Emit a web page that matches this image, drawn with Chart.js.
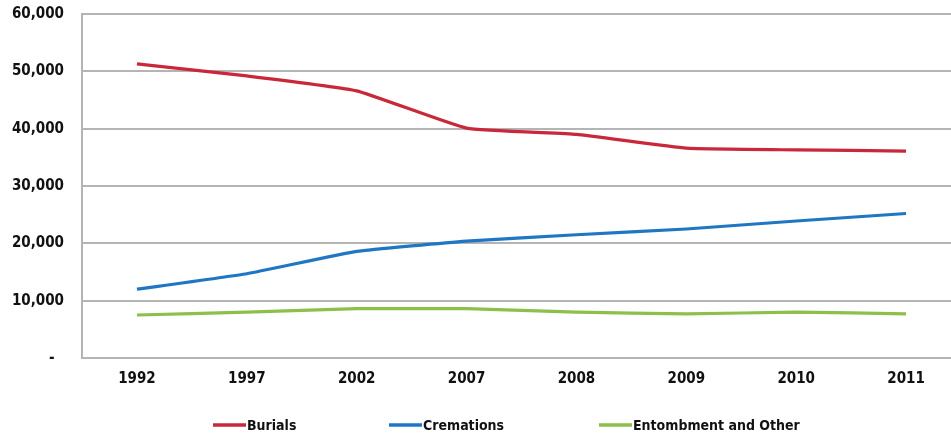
<!DOCTYPE html>
<html>
<head>
<meta charset="utf-8">
<title>Burials, Cremations and Entombment</title>
<script src="https://cdn.jsdelivr.net/npm/chart.js@4/dist/chart.umd.min.js"></script>
<style>
  html, body { margin: 0; padding: 0; background: #ffffff; overflow: hidden; }
  #wrap { position: relative; width: 962px; height: 434px; }
</style>
</head>
<body>
<div id="wrap"><canvas id="chart"></canvas></div>
<script>
// Annual dispositions by type
const years = ['1992', '1997', '2002', '2007', '2008', '2009', '2010', '2011'];
const burials = [51300, 49200, 46600, 40100, 39000, 36600, 36300, 36100];
const cremations = [12000, 14700, 18600, 20400, 21500, 22500, 23900, 25200];
const entombment = [7500, 8000, 8600, 8600, 8000, 7700, 8000, 7700];
const yTicks = [0, 10000, 20000, 30000, 40000, 50000, 60000];

const FONT = "'Liberation Sans Narrow', 'DejaVu Sans Condensed', Arial, sans-serif";
const GRID = '#b4b4b4';

// Legend row drawn beneath the axis: short coloured stroke followed by the series name
const legendRow = {
  id: 'legendRow',
  afterDraw(chart, args, opts) {
    const ctx = chart.ctx;
    ctx.save();
    ctx.font = 'bold 14px ' + FONT;
    ctx.textBaseline = 'middle';
    ctx.textAlign = 'left';
    chart.data.datasets.forEach((ds, i) => {
      const x = opts.starts[i];
      ctx.strokeStyle = ds.borderColor;
      ctx.lineWidth = 3.5;
      ctx.lineCap = 'butt';
      ctx.beginPath();
      ctx.moveTo(x, opts.y);
      ctx.lineTo(x + opts.lineLength, opts.y);
      ctx.stroke();
      ctx.fillStyle = '#111111';
      ctx.fillText(ds.label, x + opts.lineLength + 1, opts.y + 1);
    });
    ctx.restore();
  }
};

new Chart(document.getElementById('chart'), {
  type: 'line',
  data: {
    labels: years,
    datasets: [
      { label: 'Burials', data: burials, borderColor: '#c9283a' },
      { label: 'Cremations', data: cremations, borderColor: '#1f77c4' },
      { label: 'Entombment and Other', data: entombment, borderColor: '#8cc04a' }
    ]
  },
  options: {
    responsive: true,
    maintainAspectRatio: false,
    animation: false,
    devicePixelRatio: 1,
    layout: { padding: { top: 14, right: 1, bottom: 0, left: 0 } },
    elements: {
      line: { borderWidth: 3.2, tension: 0.12, fill: false },
      point: { radius: 0, hoverRadius: 0 }
    },
    plugins: {
      legend: { display: false },
      tooltip: { enabled: false },
      legendRow: { starts: [213, 389, 599], lineLength: 33, y: 425 }
    },
    scales: {
      x: {
        offset: true,
        afterFit(scale) { scale.height = 76; },
        grid: { display: false, drawTicks: false },
        border: { display: false },
        ticks: {
          padding: 12,
          color: '#111111',
          font: { family: FONT, size: 15, weight: 'bold' },
          maxRotation: 0
        }
      },
      y: {
        min: 0,
        max: 60000,
        afterFit(scale) { scale.width = 82; },
        afterBuildTicks(scale) { scale.ticks = yTicks.map(v => ({ value: v })); },
        grid: { color: GRID, lineWidth: 2, drawTicks: true, tickLength: 18, tickColor: 'rgba(0,0,0,0)' },
        border: { display: true, color: GRID, width: 2 },
        ticks: {
          padding: 0,
          color: '#111111',
          font: { family: FONT, size: 15, weight: 'bold' },
          callback(v) { return v === 0 ? '-  ' : v.toLocaleString('en-US'); }
        }
      }
    }
  },
  plugins: [legendRow]
});
</script>
</body>
</html>
